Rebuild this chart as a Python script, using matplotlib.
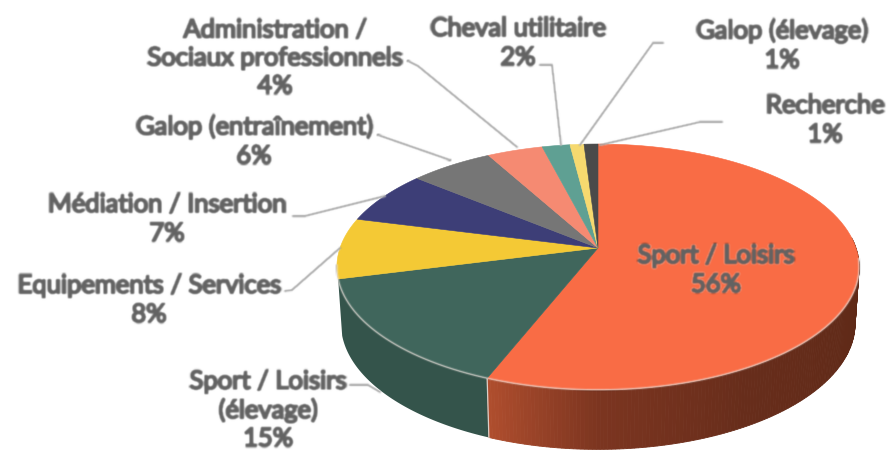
import numpy as np
import matplotlib
matplotlib.use("Agg")
import matplotlib.pyplot as plt
import matplotlib.patheffects as pe
from matplotlib.colors import to_rgb

categories = ["Sport / Loisirs", "Sport / Loisirs\n(élevage)", "Equipements / Services",
              "Médiation / Insertion", "Galop (entraînement)",
              "Administration /\nSociaux professionnels", "Cheval utilitaire",
              "Galop (élevage)", "Recherche"]
values = [56, 15, 8, 7, 6, 4, 2, 1, 1]
colors = ["#F96C45", "#40665C", "#F4C935", "#3D3E77", "#767676",
          "#F58A72", "#5FA093", "#F6D96F", "#4A4A4A"]

CX, CY = 598.0, 248.0
A = 0.154
TEXT = "#626262"
LEAD = "#a8a8a8"


def blur(sigma):
    r = int(3 * sigma) + 1
    k = np.exp(-np.arange(-r, r + 1) ** 2 / (2 * sigma ** 2))
    k /= k.sum()

    def f(im, dpi):
        p = np.pad(im, ((r, r), (r, r), (0, 0)), mode="constant")
        p = np.apply_along_axis(lambda m: np.convolve(m, k, "same"), 0, p)
        p = np.apply_along_axis(lambda m: np.convolve(m, k, "same"), 1, p)
        return p, -r, -r
    return f


def project(deg, off=0.0, c=258.0, b=120.0):
    t = np.radians(np.asarray(deg, float))
    u, v = np.sin(t), np.cos(t)
    w = 1 + A * v
    return CX + c * u / w, CY + off - b * v / w


def bottom(deg):
    return project(deg, off=56.0, c=254.0, b=123.0)


fig = plt.figure(figsize=(8.9, 4.5), dpi=100)
ax = fig.add_axes([0, 0, 1, 1])
ax.set_xlim(0, 890)
ax.set_ylim(450, 0)
ax.axis("off")

edges = np.concatenate([[0], np.cumsum(values)]) * 3.6

# side wall: green part
g0, g1 = edges[1], min(edges[2], 263)
th = np.linspace(g0, g1, 60)
xt, yt = project(th)
xb, yb = bottom(th)
ax.fill(np.r_[xt, xb[::-1]], np.r_[yt, yb[::-1]], color="#34544B", lw=0, zorder=1)

# side wall: red part, shaded
stops_t = [85, 100, 150, 180, edges[1]]
stops_c = ["#5E2917", "#5E2917", "#672D1B", "#7C3520", "#B04E2E"]
stops_rgb = np.array([to_rgb(c) for c in stops_c])
th = np.linspace(85, edges[1], 160)
for t0, t1 in zip(th[:-1], th[1:]):
    col = [np.interp((t0 + t1) / 2, stops_t, stops_rgb[:, i]) for i in range(3)]
    seg = np.array([t0, t1])
    xt, yt = project(seg)
    xb, yb = bottom(seg)
    ax.fill(np.r_[xt, xb[::-1]], np.r_[yt, yb[::-1]], color=col, ec=col, lw=0.6, zorder=1)

# vertical seam between the two walls
xs, ys = project(edges[1])
xe, ye = bottom(edges[1])
ax.plot([xs, xe], [ys, ye], color="#d9cfc8", lw=0.9, zorder=2)

# top face
for i, col in enumerate(colors):
    th = np.linspace(edges[i], edges[i + 1], 90)
    x, y = project(th)
    ax.fill(np.r_[CX, x], np.r_[CY, y], color=col, ec=col, lw=0.4, zorder=3)

# light rim along the front
th = np.linspace(95, 262, 200)
x, y = project(th)
ln, = ax.plot(x, y, color="#e6dcd6", lw=1.0, alpha=0.8, zorder=4)
ln.set_agg_filter(blur(0.6))

# leader lines
leaders = [
    ([408, 418, 517], [61, 66, 147]),
    ([540, 552, 561], [65, 65, 145]),
    ([663, 653, 580], [43, 43, 145]),
    ([722, 700, 600], [122, 122, 145]),
    ([378, 450], [135, 160]),
    ([293, 305, 385], [216, 216, 196]),
    ([285, 292, 340], [291, 290, 248]),
    ([350, 368, 380], [385, 385, 392]),
]
for lx, ly in leaders:
    l, = ax.plot(lx, ly, color=LEAD, lw=1.5, zorder=5, solid_capstyle="round")
    l.set_agg_filter(blur(0.7))

# labels
anchors = [(716, 270), (268, 410), (149, 300), (167, 219), (254, 141),
           (275, 58), (518, 43), (782, 45), (825, 120)]
for name, val, (tx, ty) in zip(categories, values, anchors):
    t = ax.text(tx, ty, f"{name}\n{val}%", ha="center", va="center", color=TEXT,
                family=["Lato", "DejaVu Sans"], fontsize=18.4,
                linespacing=1.15 if "\n" in name else 1.2, zorder=6)
    t.set_path_effects([pe.withStroke(linewidth=1.6, foreground=TEXT)])
    t.set_agg_filter(blur(0.8))

fig.savefig("out.png", dpi=100, facecolor="white")
